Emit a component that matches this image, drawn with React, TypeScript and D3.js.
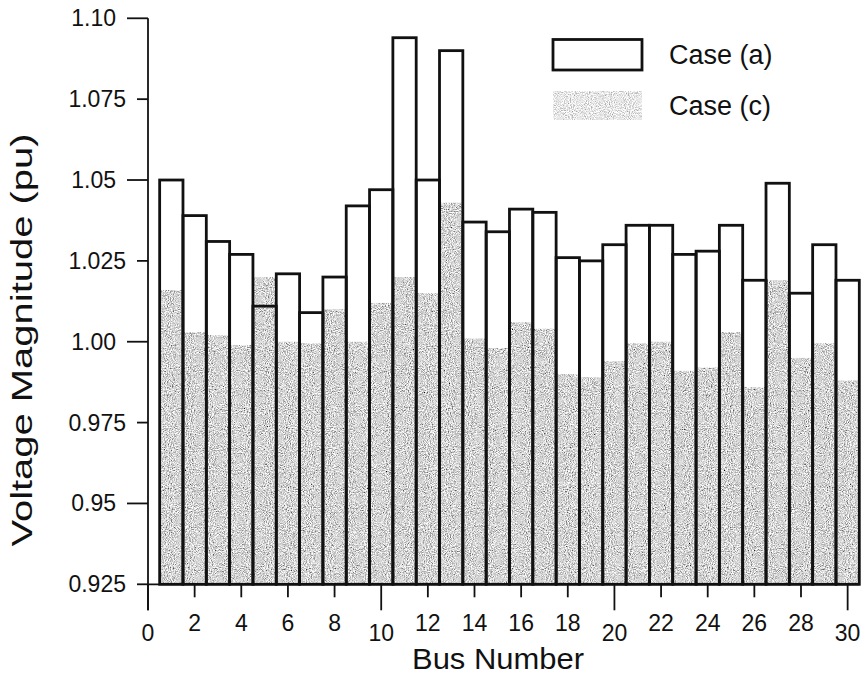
import * as d3 from 'd3';

const buses = [1, 2, 3, 4, 5, 6, 7, 8, 9, 10, 11, 12, 13, 14, 15, 16, 17, 18, 19, 20, 21, 22, 23, 24, 25, 26, 27, 28, 29, 30];
const caseA = [1.050, 1.039, 1.031, 1.027, 1.011, 1.021, 1.009, 1.020, 1.042, 1.047, 1.094, 1.050, 1.090, 1.037, 1.034,
  1.041, 1.040, 1.026, 1.025, 1.030, 1.036, 1.036, 1.027, 1.028, 1.036, 1.019, 1.049, 1.015, 1.030, 1.019];
const caseC = [1.016, 1.003, 1.002, 0.999, 1.020, 1.000, 0.9995, 1.010, 1.000, 1.012, 1.020, 1.015, 1.043, 1.001, 0.998,
  1.006, 1.004, 0.990, 0.989, 0.994, 0.9995, 1.000, 0.991, 0.992, 1.003, 0.986, 1.019, 0.995, 0.9995, 0.988];
const yTicks = [0.925, 0.95, 0.975, 1.00, 1.025, 1.05, 1.075, 1.10];
const yTickLabels = ['0.925', '0.95', '0.975', '1.00', '1.025', '1.05', '1.075', '1.10'];
const yMajor = [0.95, 1.00, 1.05, 1.10];
const xTicks = [0, 2, 4, 6, 8, 10, 12, 14, 16, 18, 20, 22, 24, 26, 28, 30];
const legendLabels = ['Case (a)', 'Case (c)'];

const W = 865;
const H = 677;
const font = '"Liberation Sans", Arial, sans-serif';

export default function App() {
  const x = d3.scaleLinear().domain([0, 30.5]).range([148, 859.3]);
  const y = d3.scaleLinear().domain([0.925, 1.10]).range([584.3, 18.3]);
  const bw = x(1) - x(0);
  const y0 = y(0.925);

  return (
    <svg width={W} height={H} style={{ position: 'absolute', left: 0, top: 0, background: '#fff' }}>
      <defs>
        <filter id="grain" x="0" y="0" width="100%" height="100%" filterUnits="objectBoundingBox">
          <feTurbulence type="fractalNoise" baseFrequency="0.95" numOctaves="2" seed="4" result="n" />
          <feColorMatrix in="n" type="matrix"
            values="1.7 0 0 0 -0.19  1.7 0 0 0 -0.19  1.7 0 0 0 -0.19  0 0 0 0 1" result="g" />
          <feComposite in="g" in2="SourceGraphic" operator="in" />
        </filter>
        <filter id="grainLight" x="0" y="0" width="100%" height="100%" filterUnits="objectBoundingBox">
          <feTurbulence type="fractalNoise" baseFrequency="0.95" numOctaves="2" seed="9" result="n" />
          <feColorMatrix in="n" type="matrix"
            values="1.4 0 0 0 0.1  1.4 0 0 0 0.1  1.4 0 0 0 0.1  0 0 0 0 1" result="g" />
          <feComposite in="g" in2="SourceGraphic" operator="in" />
        </filter>
      </defs>

      {/* case (c) shaded bars */}
      <g filter="url(#grain)">
        {buses.map((b, i) => (
          <rect key={b} x={x(b - 0.5)} y={y(caseC[i])} width={bw} height={y0 - y(caseC[i])} fill="#a8a8a8" />
        ))}
      </g>

      {/* case (a) outlined bars */}
      <g fill="none" stroke="#111" strokeWidth={2.8}>
        {buses.map((b, i) => (
          <rect key={b} x={x(b - 0.5)} y={y(caseA[i])} width={bw} height={y0 - y(caseA[i])} />
        ))}
      </g>

      {/* y axis */}
      <g stroke="#111" strokeWidth={1.8}>
        <line x1={x(0)} x2={x(0)} y1={y(1.10)} y2={y0 + 26} />
        {yTicks.map((t) => (
          <line key={t} x1={x(0) - (yMajor.includes(t) ? 21 : 11)} x2={x(0)} y1={y(t)} y2={y(t)} />
        ))}
      </g>
      <g fontFamily={font} fontSize={23} fill="#111" textAnchor="end">
        {yTicks.map((t, i) => (
          <text key={t} x={x(0) - (yMajor.includes(t) ? 21 : 11) - 11} y={y(t) + 8}>{yTickLabels[i]}</text>
        ))}
      </g>

      {/* x axis */}
      <g stroke="#111" strokeWidth={1.8}>
        <line x1={x(0)} x2={x(30.5)} y1={y0} y2={y0} />
        {xTicks.map((t) => (
          <line key={t} x1={x(t)} x2={x(t)} y1={y0} y2={y0 + (t % 10 === 0 ? 26 : 13)} />
        ))}
      </g>
      <g fontFamily={font} fontSize={23} fill="#111" textAnchor="middle">
        {xTicks.map((t) => (
          <text key={t} x={x(t)} y={y0 + (t % 10 === 0 ? 57 : 47)}>{t}</text>
        ))}
      </g>

      {/* axis titles */}
      <text x={498} y={669} fontFamily={font} fontSize={30} textAnchor="middle" fill="#111"
        textLength={172} lengthAdjust="spacingAndGlyphs">Bus Number</text>
      <text transform="translate(32,340) rotate(-90)" fontFamily={font} fontSize={29} textAnchor="middle" fill="#111"
        textLength={413} lengthAdjust="spacingAndGlyphs">Voltage Magnitude (pu)</text>

      {/* legend */}
      <rect x={553} y={39.5} width={89} height={30.5} fill="none" stroke="#111" strokeWidth={2.8} />
      <rect x={553} y={91} width={89} height={29} fill="#c4c4c4" filter="url(#grainLight)" />
      <g fontFamily={font} fontSize={27} fill="#111">
        <text x={669} y={64}>{legendLabels[0]}</text>
        <text x={669} y={115}>{legendLabels[1]}</text>
      </g>
    </svg>
  );
}
